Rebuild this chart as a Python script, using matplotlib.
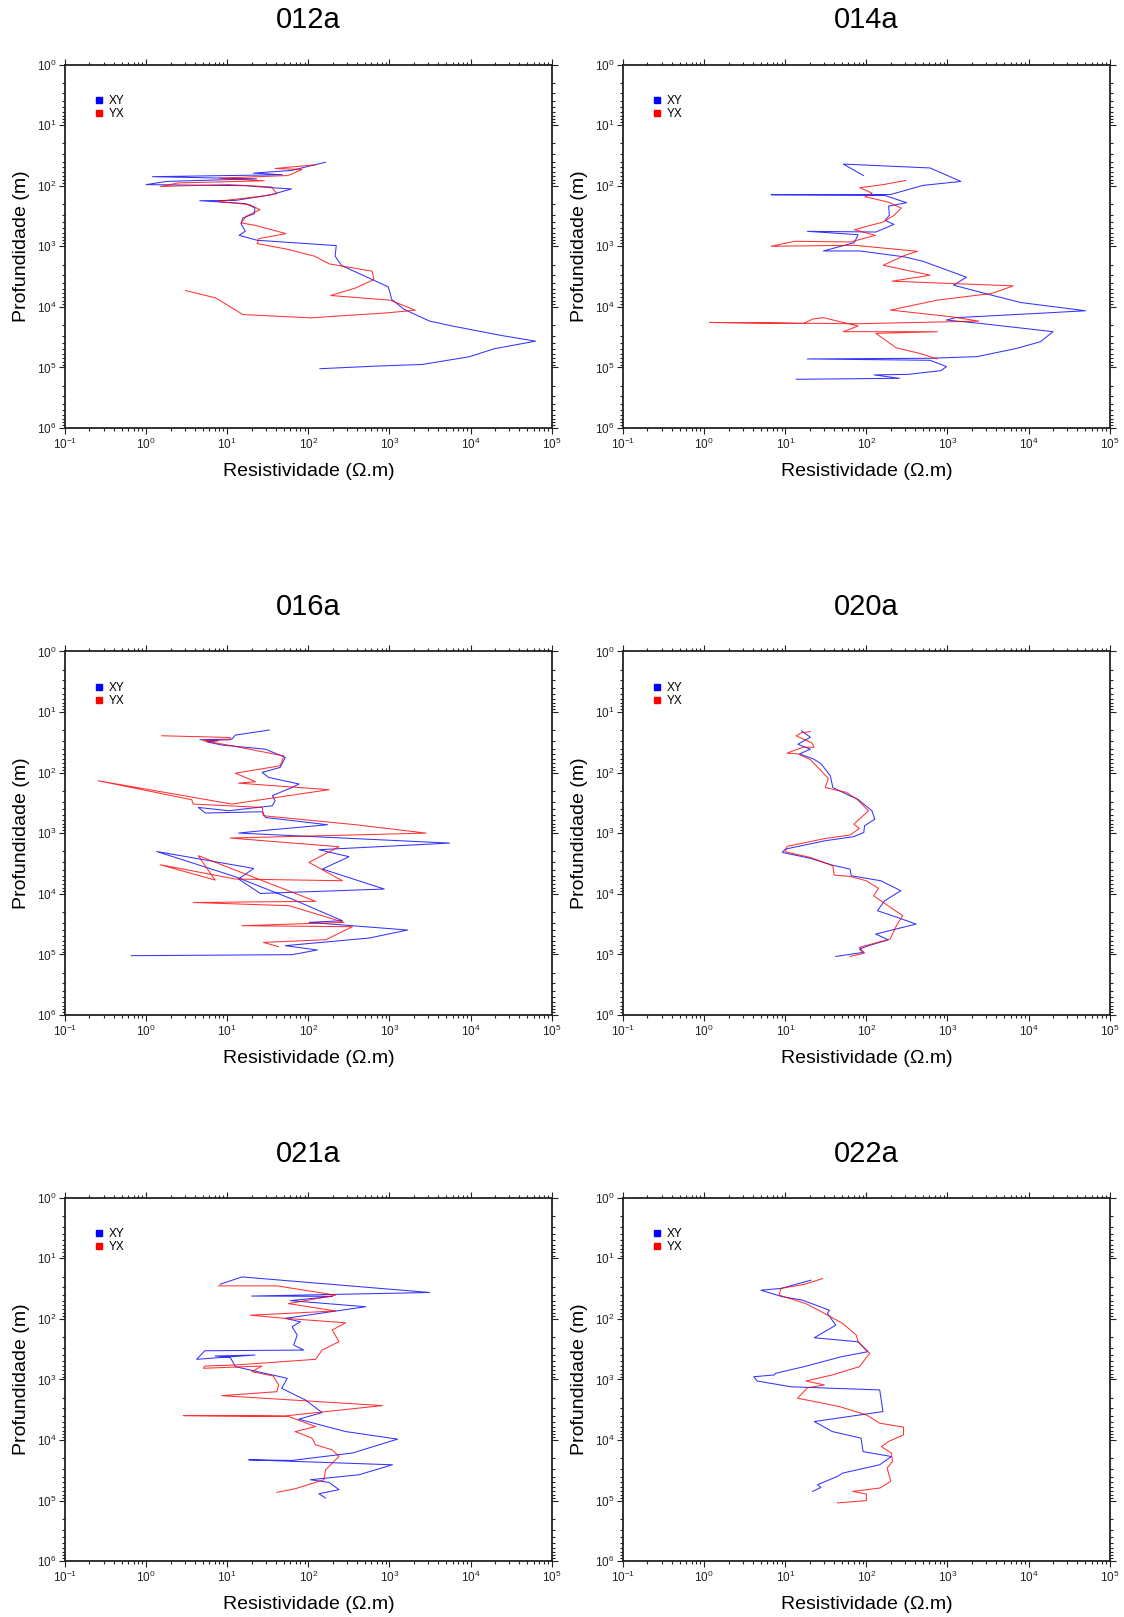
import matplotlib
matplotlib.use("Agg")
import matplotlib.pyplot as plt
from matplotlib.lines import Line2D
from matplotlib.ticker import FixedLocator, LogLocator, NullFormatter, LogFormatterSciNotation

plt.rcParams['font.family'] = ['Liberation Sans', 'DejaVu Sans']
plt.rcParams['mathtext.fontset'] = 'custom'
plt.rcParams['mathtext.rm'] = 'Liberation Sans'
plt.rcParams['mathtext.it'] = 'Liberation Sans:italic'

stations = ["012a", "014a", "016a", "020a", "021a", "022a"]
x_decades = [1e-1, 1e0, 1e1, 1e2, 1e3, 1e4, 1e5]
y_decades = [1e0, 1e1, 1e2, 1e3, 1e4, 1e5, 1e6]

# (resistivity [ohm.m], depth [m]), in plotting order
xy_012a = [(163, 41), (62, 56), (21, 62), (48, 66), (1.2, 71), (23, 77), (1.8, 85), (1.0, 96),
           (17, 100), (35, 108), (62, 113), (35, 141), (12.7, 175), (4.6, 177), (17, 198),
           (22, 233), (21.6, 290), (15.6, 341), (14.8, 423), (16.7, 566), (14, 659), (23.4, 796),
           (221, 975), (214, 1460), (257, 2080), (406, 2750), (968, 4680), (1070, 7570),
           (1530, 11070), (3130, 17200), (6060, 20800), (24000, 29700), (63400, 36800),
           (19600, 49200), (9600, 66700), (2550, 89300), (678, 95100), (139, 105000)]
yx_012a = [(126, 45), (39, 52), (84, 54), (56, 68), (8.0, 75), (28.7, 83), (2.5, 90), (1.5, 103),
           (10.4, 96), (35, 105), (41, 135), (26, 150), (11.5, 170), (7.6, 181), (19, 206),
           (25.4, 249), (17.2, 320), (14.8, 412), (22.2, 451), (53, 618), (24.6, 748), (23.4, 903),
           (53, 1107), (120, 1460), (180, 1950), (612, 2580), (644, 3540), (386, 4860), (189, 6500),
           (1020, 7760), (2080, 11350), (920, 12600), (210, 14300), (108, 15200), (15.6, 13400),
           (7.2, 7110), (3.05, 5380)]

xy_014a = [(92, 68), (52, 44), (611, 51), (1460, 85), (498, 99), (198, 140), (6.7, 141), (169, 145),
           (314, 191), (188, 217), (192, 309), (170, 374), (219, 435), (131, 582), (18.7, 567),
           (79, 644), (71, 871), (29.6, 1195), (83, 1195), (298, 1500), (498, 1770), (1710, 3240),
           (1190, 4390), (3490, 6410), (7940, 8470), (50300, 11600), (13200, 12800), (1250, 15100),
           (970, 16500), (2570, 18800), (20000, 25700), (14000, 37600), (7160, 48400), (2320, 66300),
           (611, 70600), (18.7, 72400), (611, 76200), (970, 96900), (832, 113000), (330, 130000),
           (125, 133000), (256, 151000), (13.7, 157000)]
yx_014a = [(304, 82), (161, 96), (83, 108), (118, 133), (96, 152), (188, 187), (269, 234), (219, 309),
           (161, 398), (71, 533), (129, 660), (64, 849), (13, 828), (6.7, 1000), (71, 964), (427, 1210),
           (298, 1410), (161, 2060), (611, 3000), (208, 3770), (1130, 4120), (6470, 4500), (3490, 6020),
           (750, 7740), (198, 11300), (1130, 14600), (2440, 17200), (79, 19000), (1.17, 18100),
           (16.9, 18800), (21.8, 15900), (29.6, 15100), (79, 20700), (52, 25700), (750, 25700),
           (131, 27400), (231, 47200), (450, 58500), (750, 72400)]

xy_016a = [(33, 19.8), (12.6, 24), (11.4, 28), (4.6, 28.6), (7.8, 29.8), (5.6, 31), (8.6, 35), (29.6, 41),
           (52, 56), (45, 82), (27, 99), (32.5, 120), (77, 154), (63, 175), (36, 240), (39, 291), (36, 352),
           (10.4, 425), (4.4, 375), (5.4, 464), (27, 442), (29.6, 549), (173, 724), (32.5, 885),
           (13.8, 993), (5500, 1455), (135, 1870), (318, 2440), (149, 3900), (863, 8340), (25.6, 9850),
           (13.8, 5700), (21.2, 3810), (1.35, 2000), (12.6, 5220), (63, 12200), (263, 27800),
           (102, 29600), (1680, 39600), (562, 53700), (52, 71800), (129, 84700), (63, 101000),
           (0.66, 105000)]
yx_016a = [(1.56, 24.6), (10.9, 26.3), (10.9, 28.6), (5.1, 29.8), (11.4, 36), (50, 53), (45, 77), (34, 82),
           (12.6, 102), (22.3, 141), (13.8, 149), (180, 191), (11.4, 330), (0.256, 136), (3.66, 280),
           (3.8, 330), (27, 375), (28, 514), (385, 724), (2830, 995), (10.9, 1200), (239, 1670),
           (102, 3030), (263, 6080), (12.6, 5700), (1.49, 3310), (7.1, 5930), (4.4, 2350), (123, 13300),
           (3.8, 13900), (58, 15700), (276, 29600), (15.2, 33600), (350, 34900), (164, 57200),
           (28, 63400), (43, 74600)]

xy_020a = [(15.8, 20.4), (20.4, 26), (14.3, 34), (20.4, 41), (15, 49), (22.6, 60), (27.8, 72), (36, 113),
           (38.6, 176), (60, 235), (78, 273), (117, 426), (127, 585), (95, 753), (93, 970), (70, 1140),
           (31, 1330), (10, 1830), (9.2, 2070), (20.4, 2600), (38, 3360), (63, 3910), (65, 5030),
           (151, 6090), (266, 8900), (168, 13000), (137, 19000), (240, 24500), (410, 31600), (130, 46200),
           (186, 57300), (106, 71900), (82, 81700), (91, 92700), (42, 108000)]
yx_020a = [(20.4, 21), (15.8, 22), (13.6, 24.6), (21.5, 32.6), (22.6, 38), (16.6, 38), (10.5, 47.6),
           (14.3, 49), (20.4, 61), (34, 125), (31, 176), (57, 212), (78, 280), (106, 426), (70, 707),
           (82, 834), (63, 1070), (31, 1220), (10.5, 1650), (10, 2020), (20.4, 2510), (38.6, 3440),
           (40, 4910), (63, 5160), (100, 6090), (141, 8150), (123, 10800), (281, 23000), (240, 31600),
           (196, 55800), (82, 76600), (95, 95100), (63, 108000)]

xy_021a = [(8.2, 26.8), (15.2, 20.3), (3130, 36.7), (20, 42), (200, 42.5), (60, 50), (510, 63), (52, 98),
           (80, 112), (63, 135), (73, 185), (66, 270), (88, 327), (5.3, 336), (4.2, 465), (22, 395),
           (7.1, 410), (10.9, 431), (12.6, 615), (55, 957), (47, 1400), (92, 2180), (148, 3520),
           (76, 4530), (288, 7240), (1260, 9660), (348, 16400), (63, 21700), (18.4, 21200), (1090, 25600),
           (422, 37400), (106, 45200), (180, 50000), (239, 66000), (135, 76900), (163, 90500)]
yx_021a = [(7.8, 28.5), (41, 28.5), (217, 40.6), (57, 56), (217, 74), (19.3, 87), (52, 98), (288, 116),
           (197, 153), (239, 238), (148, 327), (123, 465), (12.6, 577), (5.3, 600), (5.1, 654), (26.8, 600),
           (20.1, 744), (37, 877), (43, 1230), (41, 1590), (8.6, 1850), (819, 2700), (52, 3990),
           (2.88, 3950), (57, 4090), (123, 5990), (69, 7240), (111, 9310), (123, 12000), (197, 14500),
           (239, 18700), (163, 30900), (156, 45200), (69, 63600), (41, 73100)]

xy_022a = [(20.7, 23), (8.8, 31.5), (5.0, 33.6), (9.2, 43), (16.3, 49), (35, 72), (33, 81), (42, 127),
           (22.8, 205), (79, 239), (104, 348), (49, 422), (17, 615), (7.6, 791), (7.3, 843), (4.1, 900),
           (4.5, 1060), (11.7, 1320), (146, 1490), (160, 3390), (22.8, 4950), (38, 7240), (86, 9310),
           (91, 15500), (203, 18700), (146, 25600), (51, 35100), (44, 39800), (25, 54600), (27.5, 60500),
           (21.7, 70400)]
yx_022a = [(28.9, 21.6), (17, 27), (8.8, 31.5), (8.4, 40.6), (18, 56), (30.3, 81), (51, 119), (75, 185),
           (79, 239), (110, 371), (82, 615), (38, 843), (18, 1060), (30.3, 1230), (18.8, 1370),
           (14.2, 2040), (46.5, 2800), (100, 3840), (146, 5270), (287, 6120), (287, 8190), (190, 10500),
           (153, 12800), (203, 16400), (210, 22500), (180, 29000), (200, 48000), (147, 61900),
           (68, 70400), (100, 77800), (100, 100000), (44, 109000)]

curves = {
    "012a": (xy_012a, yx_012a),
    "014a": (xy_014a, yx_014a),
    "016a": (xy_016a, yx_016a),
    "020a": (xy_020a, yx_020a),
    "021a": (xy_021a, yx_021a),
    "022a": (xy_022a, yx_022a),
}

blue, red = "#0000ff", "#ff0000"

fig = plt.figure(figsize=(11.24, 16.17), dpi=100)
lefts = [0.0578, 0.5543]
bottoms = [0.7353, 0.3723, 0.0345]
width, height = 0.433, 0.2248

for i, name in enumerate(stations):
    ax = fig.add_axes([lefts[i % 2], bottoms[i // 2], width, height])
    xy, yx = curves[name]
    ax.plot([p[0] for p in xy], [p[1] for p in xy], color=blue, lw=0.75, alpha=0.8)
    ax.plot([p[0] for p in yx], [p[1] for p in yx], color=red, lw=0.75, alpha=0.8)

    ax.set_xscale("log")
    ax.set_yscale("log")
    ax.set_xlim(x_decades[0], x_decades[-1])
    ax.set_ylim(y_decades[-1], y_decades[0])
    for axis, dec in ((ax.xaxis, x_decades), (ax.yaxis, y_decades)):
        axis.set_major_locator(FixedLocator(dec))
        axis.set_major_formatter(LogFormatterSciNotation())
        axis.set_minor_locator(LogLocator(base=10, subs=range(2, 10), numticks=20))
        axis.set_minor_formatter(NullFormatter())
    ax.tick_params(which="both", direction="out", top=True, right=True,
                   labeltop=False, labelright=False, width=0.8, colors="#222222")
    ax.tick_params(which="major", length=4, labelsize=8.5, pad=2)
    ax.tick_params(which="minor", length=2)
    for sp in ax.spines.values():
        sp.set_linewidth(1.3)
        sp.set_color("#222222")

    ax.set_title(name, fontsize=21, pad=26)
    ax.set_xlabel("Resistividade (Ω.m)", fontsize=14, labelpad=8)
    ax.set_ylabel("Profundidade (m)", fontsize=14, labelpad=5)

    handles = [Line2D([], [], marker="s", ls="none", color=blue, markersize=5, label="XY"),
               Line2D([], [], marker="s", ls="none", color=red, markersize=5, label="YX")]
    ax.legend(handles=handles, loc="upper left", bbox_to_anchor=(0.063, 0.917), frameon=False,
              fontsize=8.5, handlelength=0.6, handletextpad=0.5, labelspacing=0.12,
              borderpad=0, borderaxespad=0)

fig.savefig("out.png", dpi=100)
